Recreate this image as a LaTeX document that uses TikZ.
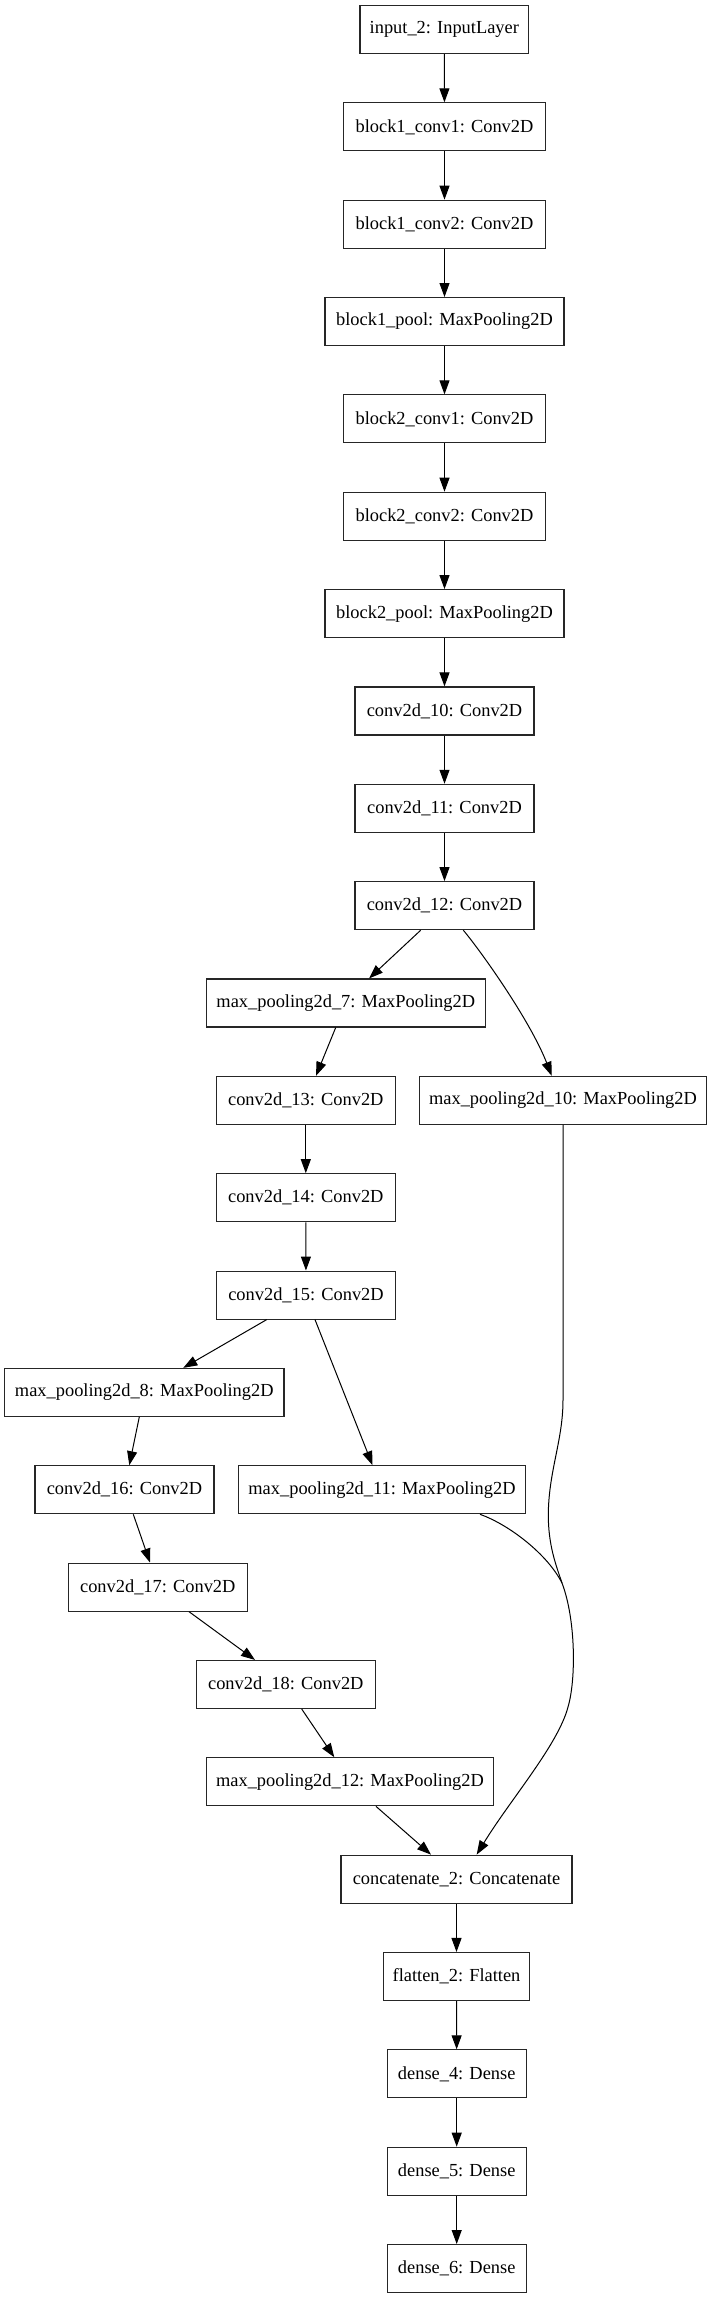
\documentclass[tikz,border=0pt]{standalone}
\usepackage{fontspec}
\setmainfont{Liberation Serif}
\usetikzlibrary{arrows.meta}
\begin{document}
\begin{tikzpicture}[x=1pt,y=-1pt,
  layer/.style={draw=black!85, line width=1.1pt, inner sep=0pt, minimum height=48pt,
    font=\fontsize{18.4}{22}\selectfont},
  edge/.style={line width=1pt, -{Triangle[length=14pt,width=10pt]}},
  link/.style={line width=1pt}]
\useasboundingbox (0,0) rectangle (712,2299);
% main column
\node[layer, minimum width=168.7pt] (in) at (444.3,29.5) {input\_2: InputLayer};
\node[layer, minimum width=201.6pt] (b1c1) at (444.5,126.85) {block1\_conv1: Conv2D};
\node[layer, minimum width=201.6pt] (b1c2) at (444.5,224.2) {block1\_conv2: Conv2D};
\node[layer, minimum width=239pt] (b1p) at (444.5,321.55) {block1\_pool: MaxPooling2D};
\node[layer, minimum width=201.6pt] (b2c1) at (444.5,418.9) {block2\_conv1: Conv2D};
\node[layer, minimum width=201.6pt] (b2c2) at (444.5,516.25) {block2\_conv2: Conv2D};
\node[layer, minimum width=239pt] (b2p) at (444.5,613.6) {block2\_pool: MaxPooling2D};
\node[layer, minimum width=179pt] (c10) at (444.5,710.95) {conv2d\_10: Conv2D};
\node[layer, minimum width=179pt] (c11) at (444.5,808.3) {conv2d\_11: Conv2D};
\node[layer, minimum width=179pt] (c12) at (444.5,905.65) {conv2d\_12: Conv2D};
% branches
\node[layer, minimum width=279pt] (mp7) at (345.8,1003.0) {max\_pooling2d\_7: MaxPooling2D};
\node[layer, minimum width=179pt] (c13) at (305.8,1100.35) {conv2d\_13: Conv2D};
\node[layer, minimum width=286.6pt] (mp10) at (563,1100.35) {max\_pooling2d\_10: MaxPooling2D};
\node[layer, minimum width=179pt] (c14) at (305.8,1197.7) {conv2d\_14: Conv2D};
\node[layer, minimum width=179pt] (c15) at (306,1295.05) {conv2d\_15: Conv2D};
\node[layer, minimum width=279.3pt] (mp8) at (144.3,1392.4) {max\_pooling2d\_8: MaxPooling2D};
\node[layer, minimum width=179pt] (c16) at (124.5,1489.75) {conv2d\_16: Conv2D};
\node[layer, minimum width=286.6pt] (mp11) at (382,1489.75) {max\_pooling2d\_11: MaxPooling2D};
\node[layer, minimum width=179pt] (c17) at (157.8,1587.1) {conv2d\_17: Conv2D};
\node[layer, minimum width=179pt] (c18) at (285.8,1684.45) {conv2d\_18: Conv2D};
\node[layer, minimum width=286.6pt] (mp12) at (350,1781.8) {max\_pooling2d\_12: MaxPooling2D};
\node[layer, minimum width=231pt] (cat) at (456.5,1879.15) {concatenate\_2: Concatenate};
\node[layer, minimum width=145.6pt] (fl) at (456.5,1976.5) {flatten\_2: Flatten};
\node[layer, minimum width=138.7pt] (d4) at (456.7,2073.85) {dense\_4: Dense};
\node[layer, minimum width=138.7pt] (d5) at (456.7,2171.2) {dense\_5: Dense};
\node[layer, minimum width=138.7pt] (d6) at (456.7,2268.55) {dense\_6: Dense};
% straight vertical edges
\draw[edge] (in) -- (b1c1);
\draw[edge] (b1c1) -- (b1c2);
\draw[edge] (b1c2) -- (b1p);
\draw[edge] (b1p) -- (b2c1);
\draw[edge] (b2c1) -- (b2c2);
\draw[edge] (b2c2) -- (b2p);
\draw[edge] (b2p) -- (c10);
\draw[edge] (c10) -- (c11);
\draw[edge] (c11) -- (c12);
\draw[edge] (c13) -- (c14);
\draw[edge] (c14) -- (c15);
\draw[edge] (cat) -- (fl);
\draw[edge] (fl) -- (d4);
\draw[edge] (d4) -- (d5);
\draw[edge] (d5) -- (d6);
% diagonal edges
\draw[edge] ([xshift=-23.8pt]c12.south) -- ([xshift=23.2pt]mp7.north);
\draw[edge] ([xshift=18.8pt]c12.south) .. controls (480,950) and (530,1020) .. ([xshift=-11.3pt]mp10.north);
\draw[edge] ([xshift=-10.1pt]mp7.south) -- ([xshift=10.2pt]c13.north);
\draw[edge] ([xshift=-39.3pt]c15.south) -- ([xshift=39pt]mp8.north);
\draw[edge] ([xshift=9pt]c15.south) -- ([xshift=-9.5pt]mp11.north);
\draw[edge] ([xshift=-5pt]mp8.south) -- ([xshift=4.8pt]c16.north);
\draw[edge] ([xshift=8.8pt]c16.south) -- ([xshift=-7.8pt]c17.north);
\draw[edge] ([xshift=31.2pt]c17.south) -- ([xshift=-30.8pt]c18.north);
\draw[edge] ([xshift=15.9pt]c18.south) -- ([xshift=-15.7pt]mp12.north);
\draw[edge] ([xshift=26pt]mp12.south) -- ([xshift=-25.5pt]cat.north);
% long curved edges into concatenate
\coordinate (bend) at (563,1400);
\coordinate (merge) at (562,1583);
\draw[link] (mp10.south) -- (bend) .. controls (563,1440) and (549,1470) .. (548.3,1513)
   .. controls (548,1545) and (556,1565) .. (merge);
\draw[link] ([xshift=98pt]mp11.south) .. controls (510,1525) and (548,1555) .. (merge);
\draw[edge] (merge) .. controls (576,1620) and (576,1680) .. (568,1707)
   .. controls (558,1745) and (510,1800) .. ([xshift=20.2pt]cat.north);
\end{tikzpicture}
\end{document}
